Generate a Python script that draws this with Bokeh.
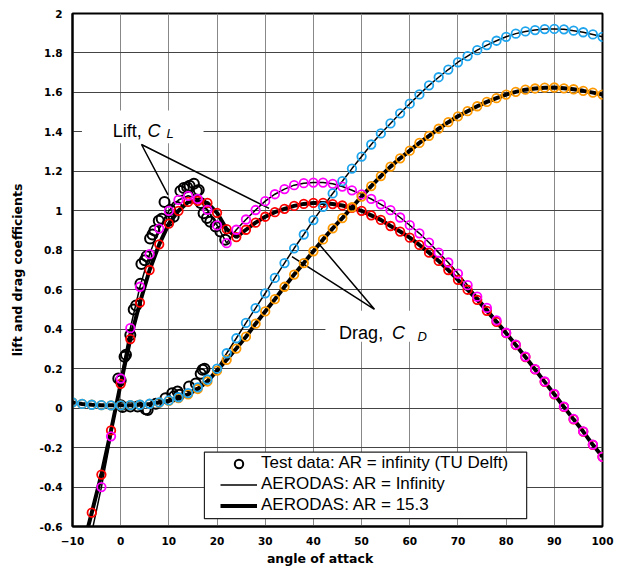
from bokeh.plotting import figure
from bokeh.models import (Range1d, FixedTicker, CustomJSTickFormatter, Legend,
                          LegendItem, BoxAnnotation, Label)
from bokeh.embed import file_html
from bokeh.resources import INLINE

# ---------------- data ----------------
alpha_drag = list(range(-10, 101, 2))
cd_ar_inf = [0.029, 0.021, 0.017, 0.015, 0.014, 0.014, 0.015, 0.017, 0.022, 0.029,
             0.039, 0.055, 0.076, 0.105, 0.145, 0.200, 0.278, 0.354, 0.432, 0.507,
             0.582, 0.660, 0.735, 0.810, 0.880, 0.953, 1.020, 1.088, 1.150, 1.214,
             1.275, 1.336, 1.392, 1.443, 1.494, 1.543, 1.590, 1.636, 1.677, 1.716,
             1.753, 1.784, 1.814, 1.840, 1.862, 1.882, 1.898, 1.909, 1.916, 1.921,
             1.922, 1.920, 1.913, 1.905, 1.894, 1.882]
cd_ar_15 = [0.029, 0.021, 0.017, 0.015, 0.014, 0.014, 0.015, 0.017, 0.021, 0.028,
            0.037, 0.051, 0.070, 0.097, 0.135, 0.190, 0.245, 0.302, 0.362, 0.428,
            0.490, 0.552, 0.615, 0.677, 0.735, 0.795, 0.855, 0.911, 0.963, 1.018,
            1.072, 1.125, 1.176, 1.224, 1.266, 1.305, 1.344, 1.380, 1.416, 1.449,
            1.479, 1.505, 1.530, 1.552, 1.571, 1.589, 1.603, 1.614, 1.620, 1.624,
            1.625, 1.621, 1.616, 1.608, 1.599, 1.589]

alpha_lift = list(range(-8, 101, 2))
cl_ar_inf = [-0.86, -0.63, -0.40, -0.143, 0.150, 0.405, 0.615, 0.780, 0.910, 1.000,
             1.055, 1.076, 1.060, 1.005, 0.926, 0.836, 0.904, 0.956, 1.004, 1.049,
             1.084, 1.110, 1.130, 1.140, 1.143, 1.143, 1.137, 1.123, 1.104, 1.083,
             1.060, 1.033, 1.003, 0.966, 0.927, 0.886, 0.839, 0.788, 0.738, 0.682,
             0.623, 0.565, 0.508, 0.445, 0.382, 0.322, 0.261, 0.198, 0.135, 0.072,
             0.008, -0.055, -0.118, -0.185, -0.247]
cl_ar_15 = [-0.72, -0.53, -0.337, -0.113, 0.123, 0.350, 0.535, 0.700, 0.830, 0.935,
            1.000, 1.045, 1.050, 1.040, 0.990, 0.907, 0.867, 0.904, 0.940, 0.970,
            0.993, 1.010, 1.025, 1.035, 1.040, 1.040, 1.034, 1.027, 1.015, 1.000,
            0.977, 0.954, 0.923, 0.895, 0.864, 0.827, 0.788, 0.746, 0.700, 0.650,
            0.600, 0.549, 0.493, 0.437, 0.380, 0.320, 0.259, 0.196, 0.133, 0.070,
            0.006, -0.057, -0.119, -0.186, -0.247]

test_lift_alpha = [-0.5, 0.0, 0.8, 1.1, 2.0, 2.7, 3.2, 4.1, 4.3, 5.0, 5.4, 6.1, 6.6, 7.0,
                   7.9, 8.5, 9.1, 10.0, 10.3, 11.0, 11.6, 12.4, 13.1, 13.8, 14.3, 15.2,
                   15.8, 16.2, 16.6, 17.2, 17.9, 18.6, 19.7, 20.7, 21.7]
test_lift_cl = [0.15, 0.14, 0.26, 0.27, 0.37, 0.50, 0.52, 0.63, 0.73, 0.75, 0.77, 0.86,
                0.88, 0.90, 0.95, 0.96, 1.045, 0.95, 1.005, 0.97, 1.02, 1.10, 1.115,
                1.12, 1.127, 1.137, 1.10, 1.106, 1.039, 0.988, 0.963, 0.945, 0.92,
                0.895, 0.853]
test_drag_alpha = [0.0, 0.4, 2.0, 3.5, 5.2, 5.6, 7.3, 9.3, 10.7, 11.1, 11.8, 12.2, 14.2,
                   15.6, 16.6, 17.0, 17.4]
test_drag_cd = [0.015, 0.006, 0.008, 0.008, -0.006, -0.010, 0.022, 0.050, 0.075, 0.060,
                0.084, 0.068, 0.110, 0.125, 0.174, 0.195, 0.200]

x_ticks = list(range(-10, 101, 10))
y_ticks = [-0.6, -0.4, -0.2, 0, 0.2, 0.4, 0.6, 0.8, 1, 1.2, 1.4, 1.6, 1.8, 2]

x_title = "angle of attack"
y_title = "lift and drag coefficients"
legend_labels = ["Test data: AR = infinity (TU Delft)",
                 "AERODAS: AR = Infinity",
                 "AERODAS: AR = 15.3"]

# annotation geometry (data coords)
lift_leader_x = [9.83, 4.32, 30.8]
lift_leader_y = [1.081, 1.336, 1.012]
drag_leader_x = [35.55, 52.67, 41.33]
drag_leader_y = [0.768, 0.501, 0.827]

C_BLUE = "#1ea5ee"
C_ORANGE = "#ff9900"
C_RED = "#ff0000"
C_MAG = "#ff00ff"

# ---------------- figure ----------------
p = figure(width=621, height=568, x_range=Range1d(-10, 100), y_range=Range1d(-0.6, 2),
           output_backend="svg", toolbar_location=None,
           min_border_left=72, min_border_right=19, min_border_top=13, min_border_bottom=41)
p.background_fill_color = "white"
p.border_fill_color = "white"
p.outline_line_color = "black"
p.outline_line_width = 2

p.xaxis.ticker = FixedTicker(ticks=x_ticks)
p.yaxis.ticker = FixedTicker(ticks=y_ticks)
p.yaxis.formatter = CustomJSTickFormatter(code="return (Math.round(tick*10)/10).toString();")
for ax in (p.xaxis[0], p.yaxis[0]):
    ax.axis_line_color = "black"
    ax.axis_line_width = 2
    ax.major_tick_out = 0
    ax.major_tick_in = 0
    ax.minor_tick_out = 0
    ax.minor_tick_in = 0
    ax.major_label_text_font = "DejaVu Sans"
    ax.major_label_text_font_style = "bold"
    ax.major_label_text_font_size = "10.5px"
    ax.major_label_text_color = "black"
    ax.axis_label_text_font = "DejaVu Sans"
    ax.axis_label_text_font_style = "bold"
    ax.axis_label_text_font_size = "12.5px"
    ax.axis_label_text_color = "black"
# trailing non-breaking spaces shift the visible title left of centre, as in the original
p.xaxis.axis_label = x_title + "\u00a0" * 8
p.yaxis.axis_label = y_title
p.xaxis.major_label_standoff = 10
p.yaxis.major_label_standoff = 10
p.xaxis.axis_label_standoff = 3
p.yaxis.axis_label_standoff = 12

p.xgrid.grid_line_color = "#888888"
p.ygrid.grid_line_color = "#444444"
p.xgrid.grid_line_width = 1
p.ygrid.grid_line_width = 1

# white boxes behind annotation texts
p.quad(left=[-8.04, 42.5], right=[17.2, 68.8], top=[1.509, 0.493], bottom=[1.342, 0.336],
       fill_color="white", line_color=None)

# leader lines
p.line(lift_leader_x, lift_leader_y, line_color="black", line_width=1.5)
p.line(drag_leader_x, drag_leader_y, line_color="black", line_width=1.5)

# test data
r_test = p.scatter(test_lift_alpha, test_lift_cl, marker="circle", size=10,
                   fill_color=None, line_color="black", line_width=2)
p.scatter(test_drag_alpha, test_drag_cd, marker="circle", size=10,
          fill_color=None, line_color="black", line_width=2)

# model lines
r_inf = p.line(alpha_lift, cl_ar_inf, line_color="black", line_width=1.5)
p.line(alpha_drag, cd_ar_inf, line_color="black", line_width=1.5)
r_15 = p.line(alpha_lift, cl_ar_15, line_color="black", line_width=4)
p.line(alpha_drag, cd_ar_15, line_color="black", line_width=4)

# model markers
MS = 8.5
MW = 1.8
p.scatter(alpha_lift, cl_ar_15, marker="circle", size=MS, fill_color=None,
          line_color=C_RED, line_width=MW)
p.scatter(alpha_lift, cl_ar_inf, marker="circle", size=MS, fill_color=None,
          line_color=C_MAG, line_width=MW)
p.scatter(alpha_drag, cd_ar_15, marker="circle", size=MS, fill_color=None,
          line_color=C_ORANGE, line_width=MW)
p.scatter(alpha_drag, cd_ar_inf, marker="circle", size=MS, fill_color=None,
          line_color=C_BLUE, line_width=MW)

# annotation texts
def lab(x, y, text, size, style, align="left"):
    p.add_layout(Label(x=x, y=y, text=text, text_font="Liberation Sans",
                       text_font_size=size, text_font_style=style,
                       text_color="black", text_baseline="alphabetic", text_align=align))

lab(4.37, 1.404, "Lift,", "18px", "normal", "right")
lab(5.57, 1.404, "C", "18px", "italic")
lab(9.52, 1.391, "L", "13px", "italic")
lab(54.47, 0.383, "Drag,", "18px", "normal", "right")
lab(56.3, 0.383, "C", "18px", "italic")
lab(61.6, 0.361, "D", "13px", "italic")

# legend frame
p.add_layout(BoxAnnotation(left=17.38, right=84.26, top=-0.2228, bottom=-0.5605,
                           fill_color="white", fill_alpha=1.0, line_color="#222222",
                           line_width=1.2, line_alpha=1.0))

legend = Legend(items=[LegendItem(label=legend_labels[0], renderers=[r_test]),
                       LegendItem(label=legend_labels[1], renderers=[r_inf]),
                       LegendItem(label=legend_labels[2], renderers=[r_15])],
                location=(146, 8.5), padding=2, spacing=0, margin=0,
                label_height=21, glyph_height=21, glyph_width=37, label_standoff=4,
                label_text_font="Liberation Sans", label_text_font_size="17px",
                label_text_color="black",
                background_fill_alpha=0.0, border_line_alpha=0.0)
p.add_layout(legend, "center")

open("out.html", "w").write(file_html(p, INLINE))
